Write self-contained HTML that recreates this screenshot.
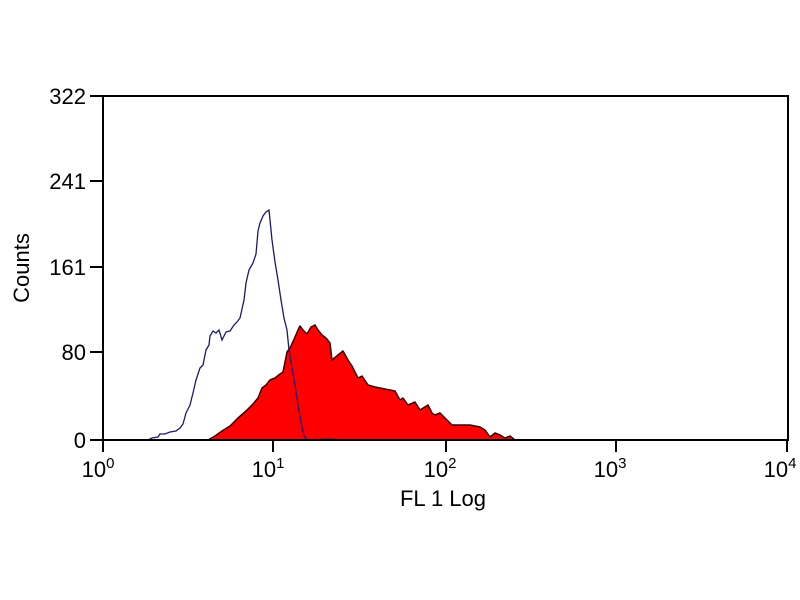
<!DOCTYPE html>
<html><head><style>
html,body{margin:0;padding:0;background:#fff;}
svg{display:block;font-family:"Liberation Sans",sans-serif;}
</style></head><body>
<svg width="800" height="600" viewBox="0 0 800 600">
<rect width="800" height="600" fill="#fff"/>
<!-- red histogram -->
<polygon fill="#ff0000" stroke="#3a0000" stroke-width="1.5" stroke-linejoin="round" points="
208,440 215,436 222,431 230,426 238,418 246,411 252,405 258,398 262,388 266,385 270,380 275,378 280,374 283,372 287,352 290,348 295,337 298,330 300,326 303,330 307,334 311,327 315,325 318,330 322,335 326,338 330,343 332,360 338,355 343,351 348,360 352,366 355,372 358,378 362,376 368,385 375,387 385,389 395,391 400,400 403,398 408,405 415,402 420,410 428,405 432,413 435,415 440,413 445,418 452,425 460,425 470,425 480,427 485,430 490,437 495,433 500,435 505,438 510,436 515,440"/>
<!-- blue histogram -->
<polyline fill="none" stroke="#1a1a6e" stroke-width="1.3" points="
103,440 148,440 152,438 158,437 160,434 165,434 170,432 176,431 180,428 183,424 186,413 190,405 193,393 196,380 200,368 203,365 206,350 209,345 210,336 213,331 216,333 219,330 222,340 226,332 230,331 234,325 237,322 240,318 244,300 246,283 249,270 253,263 256,254 258,231 260,223 263,216 266,212 269,210 272,240 275,262 278,280 281,300 284,318 287,330 289,350 292,368 295,385 298,405 301,422 304,436 308,440 330,439 340,440"/>
<!-- axes -->
<rect x="103" y="96" width="685" height="344" fill="none" stroke="#000" stroke-width="2"/>
<g stroke="#000" stroke-width="2">
<line x1="90" y1="96" x2="103" y2="96"/>
<line x1="90" y1="181" x2="103" y2="181"/>
<line x1="90" y1="267" x2="103" y2="267"/>
<line x1="90" y1="352" x2="103" y2="352"/>
<line x1="90" y1="440" x2="103" y2="440"/>
<line x1="103" y1="440" x2="103" y2="452"/>
<line x1="273" y1="440" x2="273" y2="452"/>
<line x1="446" y1="440" x2="446" y2="452"/>
<line x1="616" y1="440" x2="616" y2="452"/>
<line x1="787" y1="440" x2="787" y2="452"/>
</g>
<g font-size="22" fill="#000" text-anchor="end">
<text x="86" y="104">322</text>
<text x="86" y="189">241</text>
<text x="86" y="275">161</text>
<text x="86" y="360">80</text>
<text x="86" y="448">0</text>
</g>
<g font-size="22" fill="#000" text-anchor="middle">
<text x="98" y="477">10<tspan font-size="15" dy="-9">0</tspan></text>
<text x="268" y="477">10<tspan font-size="15" dy="-9">1</tspan></text>
<text x="440" y="477">10<tspan font-size="15" dy="-9">2</tspan></text>
<text x="610" y="477">10<tspan font-size="15" dy="-9">3</tspan></text>
<text x="780" y="477">10<tspan font-size="15" dy="-9">4</tspan></text>
<text x="443" y="506">FL 1 Log</text>
</g>
<text transform="translate(29,268) rotate(-90)" font-size="22" text-anchor="middle" fill="#000">Counts</text>
</svg>
</body></html>
